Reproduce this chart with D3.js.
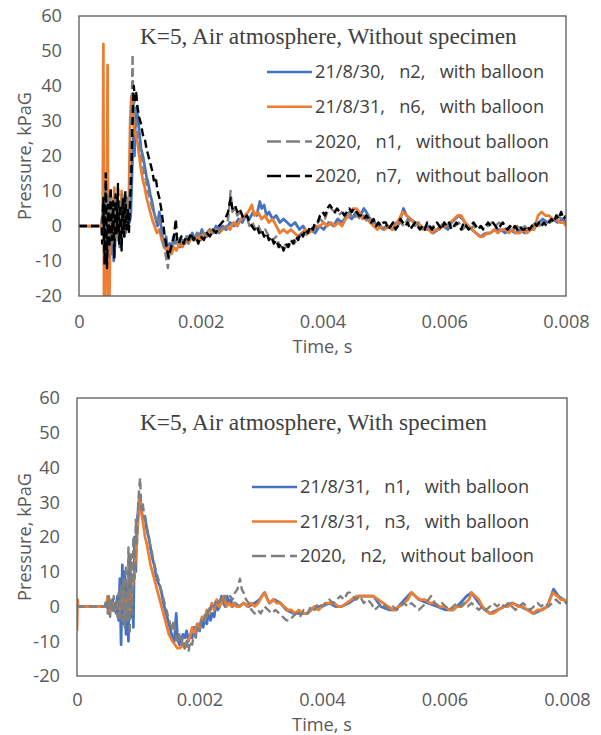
<!DOCTYPE html>
<html>
<head>
<meta charset="utf-8">
<script src="https://cdn.jsdelivr.net/npm/d3@7"></script>
<style>
  body { margin: 0; background: #fff; }
  svg { display: block; }
</style>
</head>
<body>
<div id="chart"></div>
<script>
// axis ticks (time in seconds, pressure in kPaG)
var xTickValues = [0, 0.002, 0.004, 0.006, 0.008];
var xTickLabels = ["0", "0.002", "0.004", "0.006", "0.008"];
var yTickValues = [-20, -10, 0, 10, 20, 30, 40, 50, 60];
var yTickLabels = ["-20", "-10", "0", "10", "20", "30", "40", "50", "60"];

var topTitle = "K=5, Air atmosphere, Without specimen";
var topLabels = ["21/8/30,   n2,   with balloon", "21/8/31,   n6,   with balloon",
                 "2020,   n1,   without balloon", "2020,   n7,   without balloon"];
var bottomTitle = "K=5, Air atmosphere, With specimen";
var bottomLabels = ["21/8/31,   n1,   with balloon", "21/8/31,   n3,   with balloon",
                    "2020,   n2,   without balloon"];

// series: [time in ms, pressure kPaG]
var topN2 = [[0,0],[0.37,0],[0.39,4],[0.41,-5],[0.43,9],[0.45,-7],[0.47,11],[0.49,-4],[0.51,8],[0.53,-8],[0.55,7],[0.57,-10],[0.59,-6],[0.61,9],[0.63,-3],[0.65,6],[0.67,-6],[0.69,5],[0.71,-2],[0.73,8],[0.75,-3],[0.77,4],[0.79,-1],[0.81,6],[0.83,1],[0.85,3],[0.87,14],[0.89,26],[0.91,20],[0.93,31],[0.95,34],[0.97,30],[0.99,27],[1.02,22],[1.05,20],[1.08,17],[1.11,14],[1.14,12],[1.17,9],[1.2,7],[1.23,4],[1.26,2],[1.29,0],[1.32,4],[1.34,1],[1.37,-3],[1.4,-6],[1.43,-3],[1.46,-8],[1.49,-5],[1.52,-7],[1.55,-3],[1.58,-5],[1.62,-4],[1.66,-6],[1.7,-4],[1.74,-5],[1.78,-3],[1.82,-4],[1.86,-2],[1.9,-4],[1.94,-2],[1.98,-3],[2.02,-1],[2.06,-3],[2.1,-2],[2.15,-1],[2.2,-2],[2.25,0],[2.3,-1],[2.36,0],[2.42,-1],[2.48,1],[2.55,0],[2.62,2],[2.68,1],[2.74,3],[2.8,2],[2.86,4],[2.92,3],[2.97,7],[3,5],[3.04,6],[3.08,3],[3.12,4],[3.18,2],[3.24,3],[3.3,1],[3.36,2],[3.42,1],[3.48,0],[3.55,1],[3.62,-1],[3.68,0],[3.75,-2],[3.82,-1],[3.88,-2],[3.95,0],[4.02,-1],[4.1,1],[4.18,0],[4.25,2],[4.32,1],[4.4,3],[4.48,2],[4.55,4],[4.62,3],[4.68,5],[4.72,4],[4.78,2],[4.85,1],[4.92,0],[5,-1],[5.08,0],[5.15,-1],[5.22,1],[5.28,2],[5.33,5],[5.38,3],[5.45,2],[5.52,1],[5.6,0],[5.68,-1],[5.75,0],[5.82,-2],[5.9,-1],[5.98,0],[6.06,-1],[6.12,1],[6.18,2],[6.24,3],[6.3,2],[6.38,0],[6.45,-1],[6.52,-2],[6.6,-3],[6.68,-2],[6.76,-2],[6.84,-1],[6.92,-1],[7,-2],[7.08,-1],[7.16,-2],[7.24,-1],[7.32,-2],[7.4,-1],[7.48,0],[7.55,1],[7.62,2],[7.7,1],[7.78,2],[7.86,1],[7.94,2],[8,1]];

var topN6 = [[0,0],[0.37,0],[0.39,4],[0.4,52],[0.41,-20],[0.43,-20],[0.45,-5],[0.47,46],[0.48,-20],[0.5,-20],[0.52,2],[0.54,8],[0.56,-3],[0.58,11],[0.6,-2],[0.62,9],[0.64,-4],[0.66,6],[0.68,-1],[0.7,10],[0.72,0],[0.74,5],[0.76,-2],[0.78,6],[0.8,3],[0.82,9],[0.84,30],[0.86,37],[0.88,34],[0.9,28],[0.93,26],[0.96,24],[0.99,20],[1.02,16],[1.05,13],[1.08,11],[1.11,8],[1.14,6],[1.17,4],[1.2,2],[1.24,0],[1.28,-2],[1.32,-1],[1.36,-4],[1.4,-6],[1.44,-7],[1.48,-6],[1.52,-8],[1.56,-6],[1.6,-7],[1.65,-5],[1.7,-6],[1.75,-4],[1.8,-5],[1.85,-3],[1.9,-4],[1.95,-3],[2,-4],[2.05,-2],[2.1,-3],[2.15,-1],[2.2,-2],[2.25,-1],[2.3,-2],[2.36,-1],[2.42,0],[2.48,-1],[2.54,1],[2.6,0],[2.66,2],[2.72,3],[2.78,4],[2.84,6],[2.88,3],[2.94,4],[3,2],[3.06,3],[3.12,1],[3.18,2],[3.24,0],[3.3,-2],[3.36,-1],[3.42,-2],[3.48,-1],[3.54,-2],[3.6,-3],[3.66,-2],[3.72,-1],[3.78,-2],[3.84,-1],[3.9,0],[3.96,0],[4.02,1],[4.08,0],[4.14,1],[4.2,0],[4.26,1],[4.32,0],[4.38,2],[4.44,3],[4.5,5],[4.56,5],[4.6,4],[4.66,2],[4.72,3],[4.78,1],[4.84,0],[4.9,-1],[4.96,0],[5.02,-1],[5.08,0],[5.14,-1],[5.2,0],[5.26,2],[5.32,4],[5.38,3],[5.44,2],[5.5,1],[5.56,1],[5.62,0],[5.68,-1],[5.74,-1],[5.8,-2],[5.86,-1],[5.92,-1],[5.98,0],[6.04,0],[6.1,1],[6.16,2],[6.22,3],[6.28,3],[6.34,1],[6.4,0],[6.46,-1],[6.52,-2],[6.58,-3],[6.64,-3],[6.7,-2],[6.76,-2],[6.82,-1],[6.88,-2],[6.94,-1],[7,-1],[7.06,-2],[7.12,-1],[7.18,-2],[7.24,-2],[7.3,-1],[7.36,-2],[7.42,-1],[7.48,-1],[7.54,3],[7.6,4],[7.66,3],[7.72,3],[7.78,2],[7.84,2],[7.9,1],[7.96,1],[8,0]];

var topN1 = [[0,0],[0.37,0],[0.39,6],[0.41,-8],[0.43,12],[0.45,-6],[0.47,9],[0.49,-9],[0.51,10],[0.53,-5],[0.55,7],[0.57,-7],[0.59,8],[0.61,-4],[0.63,10],[0.65,-3],[0.67,7],[0.69,-5],[0.71,9],[0.73,-1],[0.75,6],[0.77,-2],[0.79,8],[0.81,2],[0.83,10],[0.85,25],[0.87,38],[0.88,49],[0.89,33],[0.91,36],[0.93,30],[0.95,28],[0.98,25],[1.01,21],[1.04,19],[1.07,15],[1.1,13],[1.13,10],[1.16,8],[1.19,6],[1.22,4],[1.25,3],[1.28,1],[1.31,2],[1.34,-1],[1.37,-4],[1.4,-6],[1.43,-9],[1.46,-12],[1.49,-7],[1.52,-6],[1.56,-4],[1.6,-5],[1.64,-3],[1.68,-5],[1.72,-4],[1.76,-3],[1.8,-5],[1.85,-3],[1.9,-4],[1.95,-2],[2,-3],[2.05,-2],[2.1,-3],[2.15,-1],[2.2,-2],[2.25,-1],[2.3,-2],[2.35,0],[2.4,-1],[2.45,2],[2.49,10],[2.52,4],[2.56,5],[2.6,3],[2.65,4],[2.7,2],[2.75,3],[2.8,0],[2.85,1],[2.9,-1],[2.95,0],[3,-2],[3.06,-1],[3.12,-3],[3.18,-4],[3.24,-3],[3.3,-6],[3.36,-5],[3.42,-6],[3.48,-4],[3.54,-5],[3.6,-3],[3.66,-2],[3.72,-3],[3.78,-1],[3.84,-2],[3.9,0],[3.96,2],[4.02,1],[4.08,4],[4.14,5],[4.2,4],[4.26,3],[4.32,4],[4.38,3],[4.44,4],[4.5,2],[4.56,3],[4.62,2],[4.68,3],[4.74,1],[4.8,2],[4.86,0],[4.92,1],[4.98,-1],[5.04,0],[5.1,-1],[5.16,1],[5.22,0],[5.28,1],[5.34,0],[5.4,2],[5.46,1],[5.52,0],[5.58,1],[5.64,-1],[5.7,0],[5.76,-1],[5.82,0],[5.88,-1],[5.94,0],[6,1],[6.06,0],[6.12,1],[6.18,0],[6.24,1],[6.3,-1],[6.36,0],[6.42,-1],[6.48,0],[6.54,-1],[6.6,0],[6.66,-1],[6.72,0],[6.78,1],[6.84,0],[6.9,1],[6.96,0],[7.02,-1],[7.08,0],[7.14,-1],[7.2,0],[7.26,-1],[7.32,0],[7.38,-1],[7.44,0],[7.5,1],[7.56,0],[7.62,1],[7.68,2],[7.74,1],[7.8,2],[7.86,3],[7.92,2],[7.98,3],[8,2]];

var topN7 = [[0,0],[0.37,0],[0.38,-5],[0.4,8],[0.42,-11],[0.44,15],[0.46,-12],[0.48,6],[0.5,-6],[0.52,11],[0.54,-4],[0.56,7],[0.58,-9],[0.6,9],[0.62,-2],[0.64,12],[0.66,-5],[0.68,6],[0.7,-7],[0.72,8],[0.74,-3],[0.76,10],[0.78,-1],[0.8,5],[0.82,-2],[0.84,7],[0.86,15],[0.88,30],[0.9,40],[0.92,36],[0.94,38],[0.96,34],[0.99,31],[1.02,29],[1.05,26],[1.08,25],[1.11,22],[1.14,20],[1.17,18],[1.2,16],[1.23,13],[1.26,14],[1.29,10],[1.32,8],[1.35,5],[1.38,1],[1.41,-3],[1.44,-6],[1.47,-9],[1.5,-7],[1.53,-5],[1.56,-3],[1.59,2],[1.61,-4],[1.64,-5],[1.68,-3],[1.72,-5],[1.76,-3],[1.8,-4],[1.84,-2],[1.88,-4],[1.92,-3],[1.96,-5],[2,-3],[2.05,-4],[2.1,-2],[2.15,-3],[2.2,-1],[2.25,-2],[2.3,0],[2.35,1],[2.4,2],[2.45,4],[2.49,8],[2.52,5],[2.56,6],[2.6,4],[2.64,5],[2.68,3],[2.72,2],[2.76,3],[2.8,1],[2.84,0],[2.88,-1],[2.92,0],[2.96,-2],[3,-1],[3.04,-3],[3.08,-2],[3.12,-4],[3.16,-3],[3.2,-5],[3.24,-4],[3.28,-6],[3.32,-5],[3.36,-7],[3.4,-5],[3.44,-6],[3.48,-4],[3.52,-5],[3.56,-3],[3.6,-4],[3.64,-2],[3.68,-3],[3.72,-1],[3.76,-2],[3.8,0],[3.84,-1],[3.88,1],[3.92,1],[3.96,3],[4,4],[4.04,3],[4.08,5],[4.12,6],[4.16,5],[4.2,4],[4.24,5],[4.28,4],[4.32,4],[4.36,3],[4.4,4],[4.44,5],[4.48,4],[4.52,5],[4.56,4],[4.6,3],[4.64,3],[4.68,2],[4.72,3],[4.76,2],[4.8,1],[4.84,2],[4.88,0],[4.92,1],[4.96,0],[5,1],[5.04,1],[5.08,-1],[5.12,0],[5.16,1],[5.2,-1],[5.24,0],[5.28,2],[5.32,1],[5.36,0],[5.4,1],[5.44,-1],[5.48,0],[5.52,1],[5.56,0],[5.6,-1],[5.64,0],[5.68,-1],[5.72,1],[5.76,0],[5.8,-1],[5.84,0],[5.88,1],[5.92,0],[5.96,-1],[6,1],[6.04,0],[6.08,1],[6.12,-1],[6.16,0],[6.2,1],[6.24,0],[6.28,-1],[6.32,1],[6.36,0],[6.4,-1],[6.44,0],[6.48,1],[6.52,0],[6.56,-1],[6.6,0],[6.64,-1],[6.68,0],[6.72,1],[6.76,0],[6.8,1],[6.84,0],[6.88,-1],[6.92,0],[6.96,1],[7,0],[7.04,-1],[7.08,0],[7.12,-1],[7.16,0],[7.2,-1],[7.24,0],[7.28,-1],[7.32,-1],[7.36,0],[7.4,-1],[7.44,0],[7.48,1],[7.52,0],[7.56,1],[7.6,0],[7.64,1],[7.68,0],[7.72,1],[7.76,2],[7.8,1],[7.84,3],[7.88,2],[7.92,4],[7.96,2],[8,3]];

var botN1 = [[0,0],[0.48,0],[0.5,2],[0.52,-2],[0.54,1],[0.56,-1],[0.58,2],[0.6,-1],[0.62,1],[0.64,-2],[0.66,3],[0.68,-4],[0.7,8],[0.72,-11],[0.74,12],[0.76,-5],[0.78,10],[0.8,-8],[0.82,6],[0.84,-10],[0.86,14],[0.88,-3],[0.9,9],[0.92,-6],[0.94,20],[0.96,10],[0.98,24],[1,28],[1.02,32],[1.04,30],[1.06,27],[1.08,25],[1.11,26],[1.14,22],[1.17,20],[1.2,17],[1.23,14],[1.26,12],[1.29,9],[1.32,7],[1.35,6],[1.38,4],[1.41,1],[1.44,-1],[1.47,-3],[1.5,-5],[1.53,-7],[1.56,-9],[1.59,-10],[1.62,-2],[1.64,-9],[1.67,-11],[1.7,-10],[1.73,-8],[1.76,-9],[1.79,-7],[1.82,-10],[1.85,-8],[1.88,-9],[1.91,-6],[1.94,-8],[1.97,-5],[2,-7],[2.03,-4],[2.06,-6],[2.09,-3],[2.12,-5],[2.15,-1],[2.18,-4],[2.21,-2],[2.24,-3],[2.27,1],[2.3,-1],[2.33,0],[2.36,3],[2.39,1],[2.42,0],[2.45,3],[2.48,1],[2.51,2],[2.54,0],[2.58,1],[2.64,0],[2.72,1],[2.8,0],[2.9,1],[2.98,2],[3.06,4],[3.14,1],[3.22,2],[3.32,1],[3.42,-1],[3.54,-2],[3.66,-2],[3.76,-2],[3.88,0],[4,0],[4.12,1],[4.22,0],[4.32,0],[4.44,1],[4.6,3],[4.74,3],[4.84,3],[4.96,0],[5.1,-1],[5.2,-1],[5.3,1],[5.4,3],[5.46,4],[5.58,2],[5.72,1],[5.88,0],[6.02,-1],[6.14,-1],[6.26,1],[6.36,3],[6.44,4],[6.56,1],[6.66,-1],[6.74,-2],[6.86,-1],[6.98,0],[7.1,1],[7.24,0],[7.36,-1],[7.46,-2],[7.58,-1],[7.68,0],[7.74,3],[7.78,5],[7.86,3],[7.94,2],[8,1]];

var botN3 = [[0,-7],[0.01,2],[0.02,0],[0.48,0],[0.5,3],[0.52,-2],[0.54,2],[0.56,-1],[0.58,1],[0.62,0],[0.66,1],[0.7,-1],[0.74,2],[0.78,-2],[0.82,3],[0.86,-1],[0.9,5],[0.94,10],[0.98,20],[1.01,28],[1.03,32],[1.05,27],[1.08,24],[1.11,20],[1.14,18],[1.17,15],[1.2,12],[1.23,10],[1.26,8],[1.29,6],[1.32,4],[1.35,2],[1.38,0],[1.41,-2],[1.44,-4],[1.47,-6],[1.5,-8],[1.53,-9],[1.56,-10],[1.6,-11],[1.64,-12],[1.68,-12],[1.72,-11],[1.76,-12],[1.8,-10],[1.84,-9],[1.88,-6],[1.92,-8],[1.96,-5],[2,-6],[2.04,-3],[2.08,-4],[2.12,-1],[2.16,-2],[2.2,1],[2.24,-1],[2.28,2],[2.32,0],[2.36,1],[2.4,3],[2.44,0],[2.48,1],[2.52,0],[2.56,1],[2.6,0],[2.66,0],[2.72,1],[2.78,0],[2.84,1],[2.9,0],[2.96,1],[3.02,3],[3.07,4],[3.11,2],[3.15,1],[3.2,2],[3.26,1],[3.32,1],[3.38,0],[3.44,-1],[3.5,-1],[3.56,-2],[3.62,-1],[3.68,-2],[3.75,-2],[3.82,-1],[3.88,0],[3.94,-1],[4,0],[4.06,1],[4.12,1],[4.2,1],[4.26,0],[4.32,0],[4.4,1],[4.48,2],[4.56,3],[4.62,3],[4.7,3],[4.78,3],[4.84,3],[4.92,2],[5,1],[5.08,0],[5.17,-1],[5.26,0],[5.34,1],[5.4,2],[5.46,4],[5.52,3],[5.6,2],[5.68,2],[5.76,1],[5.84,1],[5.92,0],[6,0],[6.08,-1],[6.14,-1],[6.2,0],[6.28,0],[6.34,1],[6.4,2],[6.44,4],[6.5,3],[6.56,2],[6.62,0],[6.68,-1],[6.74,-2],[6.8,-2],[6.88,-1],[6.96,0],[7.04,0],[7.12,1],[7.2,0],[7.28,0],[7.36,-1],[7.44,-2],[7.52,-1],[7.6,-1],[7.68,0],[7.72,2],[7.77,4],[7.84,3],[7.9,2],[7.96,2],[8,1]];

var botN2 = [[0,0],[0.45,0],[0.48,2],[0.5,-2],[0.52,3],[0.54,-3],[0.56,2],[0.58,-2],[0.6,3],[0.62,-2],[0.64,2],[0.66,-3],[0.68,4],[0.7,-4],[0.72,6],[0.74,-5],[0.76,8],[0.78,-6],[0.8,12],[0.82,-4],[0.84,17],[0.86,-8],[0.88,15],[0.9,-2],[0.92,20],[0.94,8],[0.96,25],[0.98,18],[1,30],[1.02,35],[1.03,37],[1.05,28],[1.07,30],[1.1,26],[1.13,24],[1.16,21],[1.19,18],[1.22,16],[1.25,13],[1.28,11],[1.31,9],[1.34,7],[1.37,5],[1.4,3],[1.43,1],[1.46,-1],[1.49,-3],[1.52,-5],[1.55,-7],[1.58,-4],[1.61,-8],[1.64,-10],[1.67,-8],[1.7,-11],[1.73,-9],[1.76,-12],[1.79,-10],[1.82,-13],[1.85,-10],[1.88,-11],[1.91,-8],[1.94,-9],[1.97,-6],[2,-7],[2.03,-4],[2.06,-5],[2.09,-2],[2.12,-3],[2.15,0],[2.18,-1],[2.21,1],[2.24,0],[2.27,2],[2.3,1],[2.34,2],[2.38,1],[2.42,3],[2.46,2],[2.5,3],[2.54,2],[2.58,4],[2.62,5],[2.66,8],[2.69,5],[2.72,4],[2.76,2],[2.8,1],[2.85,-1],[2.9,-2],[2.95,-1],[3,-2],[3.06,0],[3.12,-1],[3.18,-2],[3.24,-1],[3.3,-2],[3.36,-3],[3.42,-4],[3.47,-4],[3.52,-3],[3.58,-2],[3.64,-3],[3.7,-1],[3.76,-2],[3.82,0],[3.88,-1],[3.94,1],[4,0],[4.06,1],[4.12,2],[4.18,1],[4.24,2],[4.3,3],[4.36,2],[4.42,4],[4.46,4],[4.5,3],[4.56,2],[4.62,3],[4.68,1],[4.74,2],[4.8,1],[4.86,-1],[4.92,0],[4.98,1],[5.04,0],[5.1,-1],[5.16,0],[5.22,-1],[5.28,0],[5.34,1],[5.4,0],[5.46,1],[5.52,0],[5.58,-1],[5.64,0],[5.7,1],[5.78,3],[5.84,1],[5.9,0],[5.96,1],[6.02,0],[6.08,-1],[6.14,0],[6.2,1],[6.26,0],[6.32,1],[6.38,0],[6.44,1],[6.5,0],[6.56,-1],[6.62,0],[6.68,-1],[6.74,0],[6.8,1],[6.86,0],[6.92,1],[6.98,0],[7.04,1],[7.1,0],[7.16,-1],[7.22,0],[7.28,1],[7.34,0],[7.4,-1],[7.46,0],[7.52,1],[7.58,0],[7.64,1],[7.7,0],[7.76,1],[7.82,2],[7.88,1],[7.94,1],[8,1]];

var svgWidth = 601;
var svgHeight = 735;
var axisColor = "#595959";
var textColor = "#404040";
var sansFont = "'Open Sans', 'Noto Sans', sans-serif";
var sansSize = "18.2px";

var svg = d3.select("#chart")
    .append("svg")
    .attr("width", svgWidth)
    .attr("height", svgHeight);

svg.append("rect").attr("width", svgWidth).attr("height", svgHeight).attr("fill", "#fff");

// styles by legend order
var solidBlue = {color: "#4472C4", dash: null, width: 2.75};
var solidOrange = {color: "#ED7D31", dash: null, width: 2.75};
var dashGray = {color: "#7F7F7F", dash: "8,4", width: 2.4};
var dashBlack = {color: "#000000", dash: "8,4", width: 2.4};

function drawPanel(id, box, title, labels, seriesList, styles, legend) {
    var x = d3.scaleLinear().domain([0, 0.008]).range([box.left, box.right]);
    var y = d3.scaleLinear().domain([-20, 60]).range([box.bottom, box.top]);
    var g = svg.append("g");

    g.append("clipPath").attr("id", id)
        .append("rect")
        .attr("x", box.left).attr("y", box.top)
        .attr("width", box.right - box.left).attr("height", box.bottom - box.top);

    var line = d3.line()
        .x(d => x(d[0] / 1000))
        .y(d => y(d[1]));

    var lines = g.append("g").attr("clip-path", "url(#" + id + ")");
    seriesList.forEach(function(s, i) {
        lines.append("path")
            .datum(s)
            .attr("d", line)
            .attr("fill", "none")
            .attr("stroke", styles[i].color)
            .attr("stroke-width", styles[i].width)
            .attr("stroke-dasharray", styles[i].dash)
            .attr("stroke-linejoin", "round");
    });

    // plot frame
    g.append("rect")
        .attr("x", box.left).attr("y", box.top)
        .attr("width", box.right - box.left).attr("height", box.bottom - box.top)
        .attr("fill", "none")
        .attr("stroke", axisColor)
        .attr("stroke-width", 1.3);

    // axes without tick marks, like excel
    var xAxis = g.append("g")
        .attr("transform", "translate(0," + box.bottom + ")")
        .call(d3.axisBottom(x).tickValues(xTickValues).tickSize(0)
            .tickFormat((d, i) => xTickLabels[i]));
    xAxis.select(".domain").remove();
    xAxis.selectAll("text")
        .attr("y", legend.tickOffset).attr("dy", "0.35em")
        .style("font-family", sansFont).style("font-size", sansSize)
        .attr("fill", axisColor);

    var yAxis = g.append("g")
        .attr("transform", "translate(" + box.left + ",0)")
        .call(d3.axisLeft(y).tickValues(yTickValues).tickSize(0).tickPadding(17)
            .tickFormat((d, i) => yTickLabels[i]));
    yAxis.select(".domain").remove();
    yAxis.selectAll("text")
        .style("font-family", sansFont).style("font-size", sansSize)
        .attr("fill", axisColor);

    g.append("text")
        .attr("x", (box.left + box.right) / 2)
        .attr("y", box.bottom + legend.timeOffset)
        .attr("dy", "0.35em")
        .attr("text-anchor", "middle")
        .style("font-family", sansFont).style("font-size", sansSize)
        .attr("fill", axisColor)
        .text("Time, s");

    g.append("text")
        .attr("transform", "translate(25," + (box.top + box.bottom) / 2 + ") rotate(-90)")
        .attr("dy", "0.35em")
        .attr("text-anchor", "middle")
        .style("font-family", sansFont).style("font-size", sansSize)
        .attr("fill", axisColor)
        .text("Pressure, kPaG");

    g.append("text")
        .attr("x", 140)
        .attr("y", legend.titleY)
        .attr("dy", "0.33em")
        .style("font-family", "'Liberation Serif', 'Times New Roman', serif")
        .style("font-size", "23.3px")
        .attr("fill", textColor)
        .text(title);

    var items = g.selectAll(".legend-" + id)
        .data(labels)
        .enter()
        .append("g")
        .attr("transform", (d, i) => "translate(0," + (legend.y0 + i * legend.step) + ")");
    items.append("line")
        .attr("x1", legend.x0).attr("x2", legend.x0 + 45)
        .attr("stroke", (d, i) => styles[i].color)
        .attr("stroke-width", 2.5)
        .attr("stroke-dasharray", (d, i) => styles[i].dash ? "14,5" : null);
    items.append("text")
        .attr("x", legend.x0 + 48)
        .attr("dy", "0.35em")
        .attr("xml:space", "preserve")
        .style("white-space", "pre")
        .style("font-family", sansFont).style("font-size", sansSize)
        .attr("fill", textColor)
        .text(d => d);
}

drawPanel("clipTop", {left: 79, right: 566, top: 16, bottom: 296}, topTitle, topLabels,
    [topN2, topN6, topN1, topN7], [solidBlue, solidOrange, dashGray, dashBlack],
    {titleY: 36, x0: 267, y0: 72, step: 34.7, tickOffset: 26, timeOffset: 51});

drawPanel("clipBottom", {left: 77, right: 567, top: 398, bottom: 676}, bottomTitle, bottomLabels,
    [botN1, botN3, botN2], [solidBlue, solidOrange, dashGray],
    {titleY: 422, x0: 252, y0: 487, step: 34.5, tickOffset: 24, timeOffset: 49});
</script>
</body>
</html>
